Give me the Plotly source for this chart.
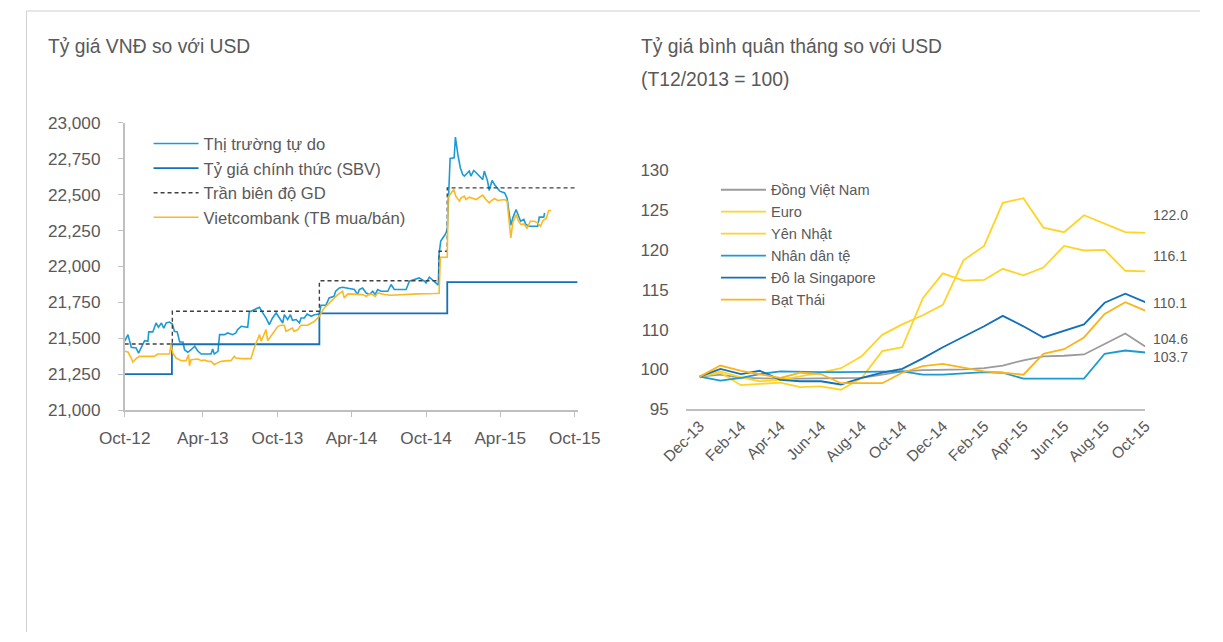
import numpy as np
import plotly.graph_objects as go

W, H = 1223, 642

# ---------------- Left chart: VND/USD ----------------
free_dates = [
"2012-09-21","2012-09-29","2012-10-07","2012-10-15","2012-10-19","2012-10-25","2012-11-02","2012-11-09","2012-11-17","2012-11-19",
"2012-11-29","2012-12-07","2012-12-13","2012-12-20","2012-12-26","2013-01-01","2013-01-09","2013-01-16","2013-01-21","2013-01-28",
"2013-02-03","2013-02-11","2013-02-15","2013-02-23","2013-03-03","2013-03-12","2013-03-20","2013-03-28","2013-04-05","2013-04-21",
"2013-04-25","2013-04-29","2013-05-08","2013-05-12","2013-05-24","2013-06-01","2013-06-13","2013-06-21","2013-06-25","2013-07-04",
"2013-07-20","2013-07-24","2013-08-05","2013-08-18","2013-08-26","2013-09-03","2013-09-11","2013-09-19","2013-09-28","2013-10-06",
"2013-10-14","2013-10-18","2013-10-26","2013-11-02","2013-11-07","2013-11-16","2013-11-24","2013-11-28","2013-12-06","2013-12-13",
"2013-12-23","2013-12-31","2014-01-12","2014-01-16","2014-01-28","2014-02-05","2014-02-17","2014-02-21","2014-03-02","2014-03-10",
"2014-03-23","2014-04-08","2014-04-16","2014-04-20","2014-04-28","2014-05-07","2014-05-15","2014-05-23","2014-05-29","2014-06-04",
"2014-06-12","2014-06-29","2014-07-07","2014-07-15","2014-07-31","2014-08-13","2014-08-21","2014-09-02","2014-09-14","2014-09-27",
"2014-10-01","2014-10-09","2014-10-17","2014-10-25","2014-10-31","2014-11-02","2014-11-06","2014-11-18","2014-11-22","2014-11-26",
"2014-11-29","2014-12-09","2014-12-12","2014-12-18","2014-12-24","2014-12-30","2015-01-03","2015-01-11","2015-01-15","2015-01-19",
"2015-01-26","2015-02-01","2015-02-09","2015-02-17","2015-02-21","2015-03-01","2015-03-05","2015-03-12","2015-03-18","2015-03-31",
"2015-04-12","2015-04-18","2015-04-27","2015-05-02","2015-05-10","2015-05-16","2015-05-21","2015-05-29","2015-06-03","2015-06-11",
"2015-07-02","2015-07-06","2015-07-17","2015-07-19"]
free_vals = [
21480,21525,21437,21432,21432,21397,21444,21483,21479,21544,
21544,21606,21576,21606,21571,21606,21613,21599,21548,21544,
21474,21474,21420,21402,21420,21444,21409,21390,21390,21390,
21425,21390,21409,21525,21525,21537,21525,21537,21560,21583,
21576,21683,21699,21716,21676,21641,21595,21641,21676,21641,
21606,21664,21630,21664,21625,21630,21606,21641,21641,21669,
21653,21664,21669,21730,21730,21781,21792,21827,21850,21855,
21850,21839,21804,21839,21850,21815,21804,21827,21804,21839,
21827,21827,21874,21839,21839,21839,21897,21908,21920,21897,
21885,21925,21908,21885,21869,22087,22176,22227,22257,22547,
22752,22756,22900,22780,22687,22640,22629,22652,22664,22629,
22668,22652,22629,22605,22664,22594,22529,22598,22571,22524,
22512,22473,22287,22338,22396,22357,22315,22327,22292,22280,
22280,22343,22343,22373]

vcb_dates = [
"2012-09-21","2012-09-29","2012-10-07","2012-10-11","2012-10-19","2012-10-27","2012-11-05","2012-12-03","2012-12-11","2013-01-09",
"2013-01-13","2013-01-17","2013-01-25","2013-02-07","2013-02-19","2013-02-25","2013-02-27","2013-03-03","2013-03-20","2013-03-28",
"2013-04-05","2013-04-13","2013-04-21","2013-04-29","2013-05-08","2013-05-16","2013-06-01","2013-06-09","2013-06-17","2013-06-21",
"2013-07-04","2013-07-28","2013-08-05","2013-08-14","2013-08-18","2013-08-22","2013-08-30","2013-09-03","2013-09-07","2013-09-15",
"2013-09-23","2013-10-02","2013-10-10","2013-10-18","2013-10-22","2013-10-30","2013-11-07","2013-11-11","2013-11-20","2013-11-28",
"2013-12-14","2013-12-31","2014-01-12","2014-01-24","2014-02-05","2014-02-17","2014-02-26","2014-03-10","2014-03-14","2014-03-23",
"2014-04-16","2014-04-28","2014-05-07","2014-05-15","2014-05-23","2014-05-29","2014-06-04","2014-06-21","2014-07-07","2014-07-31",
"2014-09-10","2014-10-21","2014-11-02","2014-11-05","2014-11-22","2014-11-24","2014-12-01","2014-12-08","2014-12-13","2014-12-22",
"2014-12-26","2015-01-03","2015-01-07","2015-01-15","2015-02-01","2015-02-09","2015-02-17","2015-02-25","2015-03-05","2015-03-09",
"2015-03-18","2015-03-26","2015-04-12","2015-04-18","2015-04-27","2015-05-02","2015-05-10","2015-05-16","2015-05-22","2015-05-30",
"2015-06-06","2015-06-14","2015-06-24","2015-07-02","2015-07-09","2015-07-15","2015-07-23","2015-07-26","2015-07-29","2015-08-04"]
vcb_vals = [
21409,21404,21362,21335,21358,21374,21374,21374,21390,21390,
21455,21397,21362,21344,21344,21386,21309,21351,21355,21344,
21348,21339,21339,21316,21330,21339,21344,21344,21374,21362,
21358,21358,21432,21502,21525,21479,21541,21560,21483,21513,
21548,21583,21590,21590,21548,21560,21571,21548,21560,21590,
21590,21618,21653,21711,21746,21781,21804,21827,21781,21809,
21809,21804,21792,21809,21804,21792,21815,21804,21799,21804,
21809,21811,21813,22064,22064,22482,22506,22536,22489,22454,
22478,22489,22466,22482,22466,22482,22496,22466,22443,22454,
22473,22459,22466,22454,22199,22303,22361,22315,22292,22296,
22264,22315,22315,22303,22280,22320,22334,22361,22389,22389]

sbv_dates = ["2012-09-21", "2013-01-15", "2014-01-12", "2014-11-22", "2015-10-08"]
sbv_vals = [21250, 21458, 21673, 21890, 21890]

ceil_dates = ["2012-09-21", "2013-01-16", "2014-01-12", "2014-11-02", "2014-11-22", "2015-10-08"]
ceil_vals = [21460, 21688, 21900, 22106, 22547, 22547]

left_tickvals = ["2012-09-21", "2013-04-01", "2013-10-01", "2014-04-01", "2014-10-01", "2015-04-01", "2015-10-01"]
left_ticktext = ["Oct-12", "Apr-13", "Oct-13", "Apr-14", "Oct-14", "Apr-15", "Oct-15"]

# ---------------- Right chart: index T12/2013 = 100 ----------------
months = ["2013-12-01", "2014-01-01", "2014-02-01", "2014-03-01", "2014-04-01", "2014-05-01",
          "2014-06-01", "2014-07-01", "2014-08-01", "2014-09-01", "2014-10-01", "2014-11-01",
          "2014-12-01", "2015-01-01", "2015-02-01", "2015-03-01", "2015-04-01", "2015-05-01",
          "2015-06-01", "2015-07-01", "2015-08-01", "2015-09-01", "2015-10-01"]
vnd = [100, 100.3, 99.8, 99.7, 99.7, 99.7, 99.7, 99.7, 99.8, 100.3, 100.8, 101.0, 101.0,
       101.1, 101.3, 101.7, 102.5, 103.1, 103.2, 103.4, 105.0, 106.6, 104.6]
euro = [100, 100.8, 99.9, 99.3, 99.5, 100.0, 100.6, 101.3, 103.1, 106.4, 108.0, 109.4, 111.0,
        117.8, 120.0, 126.6, 127.3, 122.8, 122.1, 124.7, 123.4, 122.1, 122.0]
yen = [100, 100.6, 98.7, 98.9, 99.1, 98.4, 98.5, 98.0, 99.8, 103.9, 104.5, 112.0, 115.8,
       114.7, 114.8, 116.5, 115.5, 116.7, 120.0, 119.3, 119.4, 116.2, 116.1]
cny = [100, 99.4, 99.8, 100.4, 100.8, 100.7, 100.7, 100.7, 100.7, 100.7, 100.8, 100.3, 100.3,
       100.5, 100.7, 100.6, 99.7, 99.7, 99.7, 99.7, 103.5, 104.0, 103.7]
sgd = [100, 101.2, 100.4, 100.9, 99.5, 99.3, 99.3, 98.8, 99.8, 100.6, 101.2, 102.8, 104.5,
       106.1, 107.7, 109.3, 107.7, 106.0, 107.0, 108.0, 111.3, 112.7, 111.4]
thb = [100, 101.7, 100.9, 100.4, 99.8, 100.6, 100.4, 99.0, 99.0, 99.0, 100.6, 101.6, 101.95,
       101.4, 100.8, 100.6, 100.3, 103.5, 104.2, 106.0, 109.6, 111.4, 110.1]

right_tickvals = months[::2]
right_ticktext = ["Dec-13", "Feb-14", "Apr-14", "Jun-14", "Aug-14", "Oct-14",
                  "Dec-14", "Feb-15", "Apr-15", "Jun-15", "Aug-15", "Oct-15"]
right_ylabels = ["95", "100", "110", "115", "120", "125", "130"]

GRAY_TXT = "#595959"
AX = "#bfbfbf"
FONT = "Liberation Sans, Arial, sans-serif"


# layout helpers: convert a target pixel position on the final picture to figure pixels
def fx(p):
    return (p - 24.5) / 0.961


def fy(p):
    return (p - 9.0) / 0.968


def px(p):   # paper x
    return fx(p) / W


def py(p):   # paper y
    return 1 - fy(p) / H


fig = go.Figure()

# left traces
fig.add_trace(go.Scatter(x=free_dates, y=free_vals, mode="lines", name="Thị trường tự do",
                         line=dict(color="#1b9ad6", width=1.6), legend="legend",
                         xaxis="x", yaxis="y"))
fig.add_trace(go.Scatter(x=sbv_dates, y=sbv_vals, mode="lines", name="Tỷ giá chính thức (SBV)",
                         line=dict(color="#1470b7", width=1.8, shape="hv"), legend="legend",
                         xaxis="x", yaxis="y"))
fig.add_trace(go.Scatter(x=ceil_dates, y=ceil_vals, mode="lines", name="Trần biên độ GD",
                         line=dict(color="#404040", width=1.4, dash="4px,3px", shape="hv"), legend="legend",
                         xaxis="x", yaxis="y"))
fig.add_trace(go.Scatter(x=vcb_dates, y=vcb_vals, mode="lines", name="Vietcombank (TB mua/bán)",
                         line=dict(color="#fbb924", width=1.6), legend="legend",
                         xaxis="x", yaxis="y"))

# right traces
right_series = [
    ("Đồng Việt Nam", vnd, "#9b9b9b"),
    ("Euro", euro, "#ffd426"),
    ("Yên Nhật", yen, "#ffd426"),
    ("Nhân dân tệ", cny, "#1b9ad6"),
    ("Đô la Singapore", sgd, "#1470b7"),
    ("Bạt Thái", thb, "#fbb41a"),
]
for nm, vals, col in right_series:
    fig.add_trace(go.Scatter(x=months, y=vals, mode="lines", name=nm,
                             line=dict(color=col, width=1.8), legend="legend2",
                             xaxis="x2", yaxis="y2"))

TITLE_SIZE = 19.3
annotations = [
    dict(text="Tỷ giá VNĐ so với USD", x=px(45), y=py(45), xref="paper", yref="paper",
         xanchor="left", yanchor="middle", showarrow=False, font=dict(size=TITLE_SIZE, color=GRAY_TXT)),
    dict(text="Tỷ giá bình quân tháng so với USD", x=px(638), y=py(45), xref="paper", yref="paper",
         xanchor="left", yanchor="middle", showarrow=False, font=dict(size=TITLE_SIZE, color=GRAY_TXT)),
    dict(text="(T12/2013 = 100)", x=px(638), y=py(78), xref="paper", yref="paper",
         xanchor="left", yanchor="middle", showarrow=False, font=dict(size=TITLE_SIZE, color=GRAY_TXT)),
]
end_shift = {"Đồng Việt Nam": 8, "Euro": 18, "Yên Nhật": 15, "Nhân dân tệ": -5, "Bạt Thái": 8}
for nm, vals, col in right_series:
    if nm in end_shift:
        annotations.append(dict(text="%.1f" % vals[-1], x=months[-1], y=vals[-1], xref="x2", yref="y2",
                                xanchor="left", yanchor="middle", xshift=6, yshift=end_shift[nm],
                                showarrow=False, font=dict(size=14, color=GRAY_TXT)))

shapes = [
    dict(type="line", xref="paper", yref="paper", x0=0.5 / W, x1=1, y0=py(10), y1=py(10),
         line=dict(color="#cfcfcf", width=1)),
    dict(type="line", xref="paper", yref="paper", x0=0.5 / W, x1=0.5 / W, y0=0, y1=py(10),
         line=dict(color="#cfcfcf", width=1)),
]

fig.update_layout(
    width=W, height=H, margin=dict(l=0, r=0, t=0, b=0),
    paper_bgcolor="white", plot_bgcolor="white",
    font=dict(family=FONT, color=GRAY_TXT, size=16),
    showlegend=True,
    annotations=annotations, shapes=shapes,
    xaxis=dict(domain=[px(123.3), px(576.7)], type="date", range=["2012-09-21", "2015-10-08"],
               tickmode="array", tickvals=left_tickvals, ticktext=left_ticktext,
               showline=True, linecolor=AX, linewidth=1.5, ticks="outside", ticklen=5, tickcolor=AX,
               showgrid=False, zeroline=False, tickfont=dict(size=17.2), anchor="y", ticklabelstandoff=7),
    yaxis=dict(domain=[py(408.7), py(121.7)], range=[21000, 23000], dtick=250, tick0=21000,
               tickformat=",d", showline=True, linecolor=AX, linewidth=1.5, ticks="outside", ticklen=5,
               tickcolor=AX, showgrid=False, zeroline=False, tickfont=dict(size=17.2), anchor="x",
               ticklabelstandoff=14),
    xaxis2=dict(domain=[px(685), px(1145)], type="date", range=["2013-11-10", "2015-10-01"],
                tickmode="array", tickvals=right_tickvals, ticktext=right_ticktext, tickangle=-45,
                showline=True, linecolor=AX, linewidth=1.5, ticks="", showgrid=False, zeroline=False,
                tickfont=dict(size=15.5), anchor="y2"),
    yaxis2=dict(domain=[py(408), py(168.3)], range=[95, 131.7],
                tickmode="array", tickvals=list(np.linspace(95, 131.6, 7)), ticktext=right_ylabels,
                showline=False, ticks="", showgrid=False, zeroline=False, tickfont=dict(size=17),
                anchor="x2", ticklabelstandoff=16),
    legend=dict(x=(fx(152) - 5) / W, y=1 - 120 / H, xanchor="left", yanchor="top", itemwidth=45,
                bgcolor="rgba(0,0,0,0)", font=dict(size=16.6, color=GRAY_TXT), itemclick=False),
    legend2=dict(x=(fx(720) - 5) / W, y=1 - 169 / H, xanchor="left", yanchor="top", itemwidth=45,
                 bgcolor="rgba(0,0,0,0)", font=dict(size=14.6, color=GRAY_TXT), itemclick=False),
)

fig.write_html(
    "out.html",
    config={"responsive": False, "displayModeBar": False},
    post_script="document.documentElement.style.margin='0';document.documentElement.style.padding='0';"
                "document.documentElement.style.overflow='hidden';"
                "document.body.style.margin='0';document.body.style.padding='0';"
                "document.body.style.overflow='hidden';",
)
